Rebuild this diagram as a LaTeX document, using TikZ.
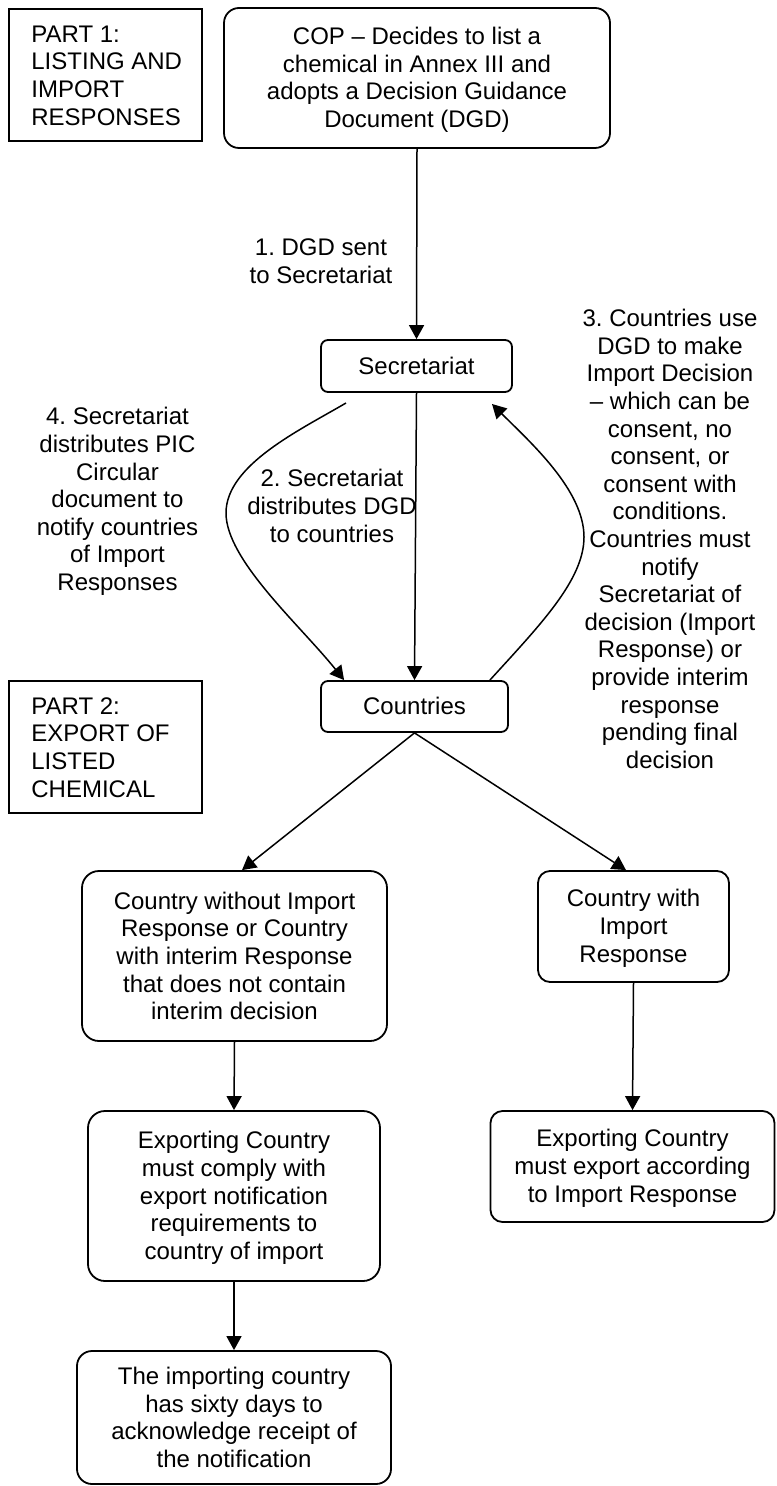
\documentclass[tikz,border=0pt]{standalone}
\usepackage{fontspec}
\setmainfont{Liberation Sans}
\usetikzlibrary{arrows.meta,calc}
\newcommand\bxs{\rule[-2.1pt]{0pt}{12.6pt}}
\begin{document}
\frenchspacing
\begin{tikzpicture}[x=0.5pt,y=-0.5pt,
  every node/.style={font=\fontsize{12pt}{13.8pt}\selectfont\frenchspacing, inner sep=0pt},
  rbox/.style={draw, line width=0.9pt, rounded corners=#1, align=center},
  sqbox/.style={draw, line width=0.9pt},
  lbl/.style={align=center},
  conn/.style={line width=0.75pt, -{Triangle[length=7pt,width=7.5pt]}}
]
\useasboundingbox (0,0) rectangle (776,1486);

% part boxes
\node[sqbox, minimum width=96.5pt, minimum height=66pt] (p1) at (105.5,75) {};
\node[anchor=west, align=left] (p1t) at (31,75.5) {PART 1:\\LISTING AND\\IMPORT\\RESPONSES};
\node[sqbox, minimum width=96.5pt, minimum height=66pt] (p2) at (105.5,747) {};
\node[anchor=west, align=left] (p2t) at (31,747.5) {PART 2:\\EXPORT OF\\LISTED\\CHEMICAL};

% main boxes
\node[rbox=7.5pt, minimum width=193pt, minimum height=70pt] (cop) at (417,78)
  {\bxs COP -- Decides to list a\\chemical in Annex III and\\adopts a Decision Guidance\\Document (DGD)\bxs};
\node[rbox=3.5pt, minimum width=95.5pt, minimum height=26pt] (sec) at (416.5,366) {\bxs Secretariat};
\node[rbox=3.5pt, minimum width=93.5pt, minimum height=25.5pt] (cty) at (414.5,706.5) {\bxs Countries};
\node[rbox=8.5pt, minimum width=152.5pt, minimum height=85pt] (A) at (234.5,956)
  {\bxs Country without Import\\Response or Country\\with interim Response\\that does not contain\\interim decision\bxs};
\node[rbox=6pt, minimum width=95.5pt, minimum height=55.5pt] (B) at (633.5,926.5)
  {\bxs Country with\\Import\\Response\bxs};
\node[rbox=8.5pt, minimum width=146pt, minimum height=85pt] (C) at (234,1196)
  {\bxs Exporting Country\\must comply with\\export notification\\requirements to\\country of import\bxs};
\node[rbox=6pt, minimum width=142pt, minimum height=55.5pt] (D) at (632.5,1166.5)
  {\bxs Exporting Country\\must export according\\to Import Response\bxs};
\node[rbox=7.5pt, minimum width=157pt, minimum height=66.5pt] (E) at (234,1417.5)
  {\bxs The importing country\\has sixty days to\\acknowledge receipt of\\the notification\bxs};

% labels
\node[lbl] (l1) at (321,261.5) {1. DGD sent\\to Secretariat};
\node[lbl] (l2) at (332,506) {2. Secretariat\\distributes DGD\\to countries};
\node[lbl] (l3) at (670,539) {3. Countries use\\DGD to make\\Import Decision\\-- which can be\\consent, no\\consent, or\\consent with\\conditions.\\Countries must\\notify\\Secretariat of\\decision (Import\\Response) or\\provide interim\\response\\pending final\\decision};
\node[lbl] (l4) at (117.5,501.5) {4. Secretariat\\distributes PIC\\Circular\\document to\\notify countries\\of Import\\Responses};

% free ends of the curved connectors
\coordinate (c4s) at (346,403);
\coordinate (c3e) at (492,404);

% connectors
\draw[conn] (cop.south) -- (sec.north);
\draw[conn] (sec.south) -- (cty.north);
\draw[conn] (c4s) .. controls (300,430) and (226,465) .. (226,513)
  .. controls (226,560) and (300,625) .. ($(cty.north west)+(24,0)$);
\draw[conn] ($(cty.north east)+(-19,0)$) .. controls (540,625) and (584,580) .. (584,537)
  .. controls (584,490) and (530,442) .. (c3e);
\draw[conn] (cty.south) -- ($(A.north)+(7.5,0)$);
\draw[conn] (cty.south) -- ($(B.north)+(-7.5,0)$);
\draw[conn] (A.south) -- (C.north);
\draw[conn] (B.south) -- (D.north);
\draw[conn] (C.south) -- (E.north);
\end{tikzpicture}
\end{document}
